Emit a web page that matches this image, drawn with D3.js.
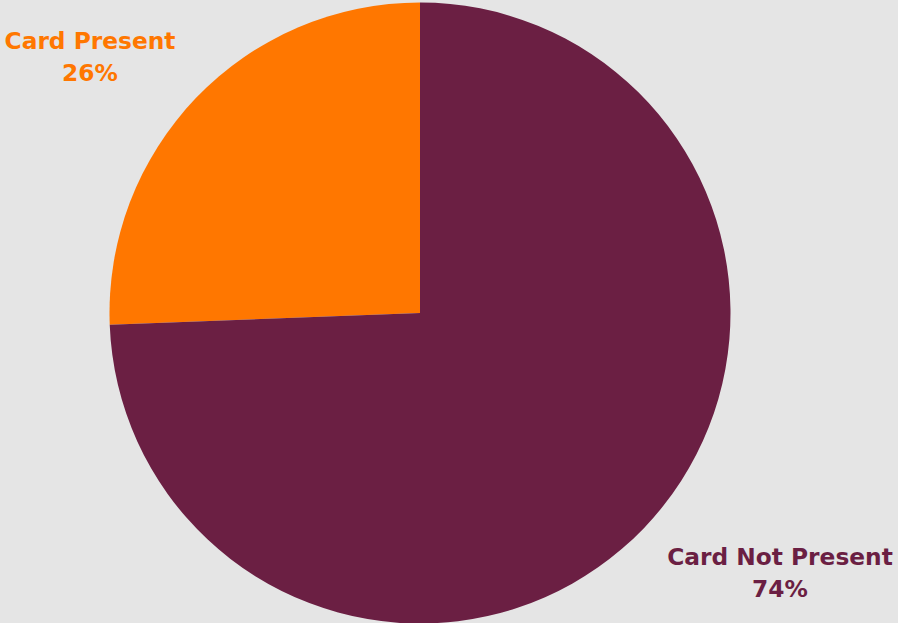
<!DOCTYPE html>
<html>
<head>
<meta charset="utf-8">
<script src="https://cdn.jsdelivr.net/npm/d3@7"></script>
<style>
  body { margin: 0; background: #e5e5e5; }
  svg { display: block; }
</style>
</head>
<body>
<div id="chart"></div>
<script>
// Slices, in drawing order (counter-clockwise from 12 o'clock)
const categories = ["Card Present", "Card Not Present"];
const shares = [25.6, 74.4];
const shareLabels = ["26%", "74%"];
const colors = ["#ff7700", "#6b1f43"];

const width = 898, height = 623;
const cx = 420, cy = 313, radius = 310.5;

const svg = d3.select("#chart").append("svg")
  .attr("width", width)
  .attr("height", height);

svg.append("rect").attr("width", width).attr("height", height).attr("fill", "#e5e5e5");

const data = categories.map((c, i) => ({ name: c, value: shares[i], label: shareLabels[i], color: colors[i] }));

// negative sweep so the first slice runs counter-clockwise from the top
const pie = d3.pie().value(d => d.value).sort(null)
  .startAngle(0).endAngle(-2 * Math.PI);

const arc = d3.arc().innerRadius(0).outerRadius(radius);

const g = svg.append("g").attr("transform", `translate(${cx},${cy})`);

g.selectAll("path")
  .data(pie(data))
  .join("path")
  .attr("d", arc)
  .attr("fill", d => d.data.color);

// Labels
const labelPos = [
  { x: 90, y1: 49, y2: 81 },
  { x: 780, y1: 565, y2: 597 }
];

const labels = svg.append("g")
  .attr("font-family", "Tahoma, 'DejaVu Sans', sans-serif")
  .attr("font-weight", "bold")
  .attr("font-size", 23.3)
  .attr("text-anchor", "middle");

data.forEach((d, i) => {
  const p = labelPos[i];
  labels.append("text").attr("x", p.x).attr("y", p.y1).attr("fill", d.color).text(d.name);
  labels.append("text").attr("x", p.x).attr("y", p.y2).attr("fill", d.color).text(d.label);
});
</script>
</body>
</html>
